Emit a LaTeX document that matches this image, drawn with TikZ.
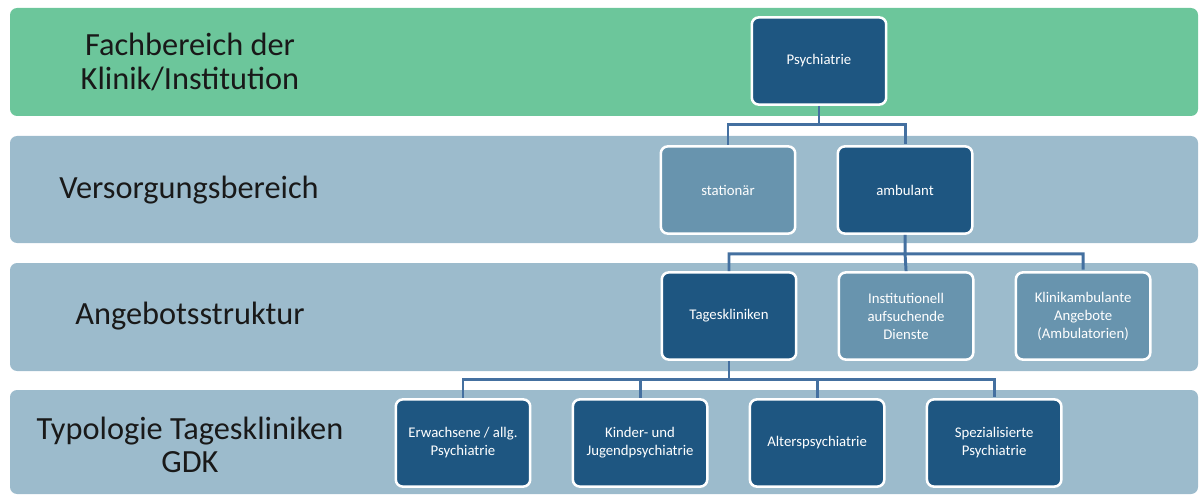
\documentclass[tikz,border=0pt]{standalone}
\usepackage{fontspec}
\setmainfont{Carlito}

\definecolor{bandgreen}{RGB}{108,198,155}
\definecolor{bandblue}{RGB}{156,187,204}
\definecolor{boxdark}{RGB}{30,86,129}
\definecolor{boxlight}{RGB}{104,148,174}
\definecolor{linkblue}{RGB}{68,112,160}

\tikzset{
  band/.style={rounded corners=5pt},
  bandtext/.style={align=center,text=black!90,font=\fontsize{23}{23.6}\selectfont},
  box/.style={draw=white,line width=1.8pt,rounded corners=5pt,fill=boxdark,text=white,
    minimum width=3.36cm,minimum height=2.18cm,align=center,
    font=\fontsize{10.5}{12.8}\selectfont},
  lightbox/.style={box,fill=boxlight},
  link/.style={draw=linkblue,line width=2.1pt,shorten >=1pt}
}

\begin{document}
\begin{tikzpicture}[x=0.025cm,y=-0.025cm,node distance=4.425cm]
\useasboundingbox (0,0) rectangle (1200,498);

% bands
\fill[band,bandgreen] (10,8) rectangle (1198,116);
\fill[band,bandblue] (10,136) rectangle (1198,243);
\fill[band,bandblue] (10,263) rectangle (1198,371);
\fill[band,bandblue] (10,390) rectangle (1198,494);

\node[bandtext] (fach)  at (190,62)  {Fachbereich der\\Klinik/Institution};
\node[bandtext] (vers)  at (189,190) {Versorgungsbereich};
\node[bandtext] (angeb) at (190,316) {Angebotsstruktur};
\node[bandtext] (typo)  at (190,445) {Typologie Tageskliniken\\GDK};

% boxes
\node[box]      (psy)   at (819,61)  {Psychiatrie};
\node[lightbox] (stat)  at (728,190) {stationär};
\node[box]      (amb)   [right of=stat] {ambulant};
\node[box]      (tages) at (729,316) {Tageskliniken};
\node[lightbox] (inst)  [right of=tages] {Institutionell\\aufsuchende\\Dienste};
\node[lightbox] (klin)  [right of=inst]  {Klinikambulante\\Angebote\\(Ambulatorien)};
\node[box]      (erw)   at (463,443) {Erwachsene / allg.\\Psychiatrie};
\node[box]      (kind)  [right of=erw]  {Kinder- und\\Jugendpsychiatrie};
\node[box]      (alt)   [right of=kind] {Alterspsychiatrie};
\node[box]      (spez)  [right of=alt]  {Spezialisierte\\Psychiatrie};

% connectors
\path[link] (psy.south) -- ++(0,19) coordinate (psyj) -| (stat.north)
            (psyj) -| (amb.north);
\path[link] (amb.south) -- ++(0,19) coordinate (ambj) -| (tages.north)
            (ambj) -- (inst.north)
            (ambj) -| (klin.north);
\path[link] (tages.south) -- ++(0,19) coordinate (tagj) -| (erw.north)
            (tagj) -| (kind.north)
            (tagj) -| (alt.north)
            (tagj) -| (spez.north);

\end{tikzpicture}
\end{document}
